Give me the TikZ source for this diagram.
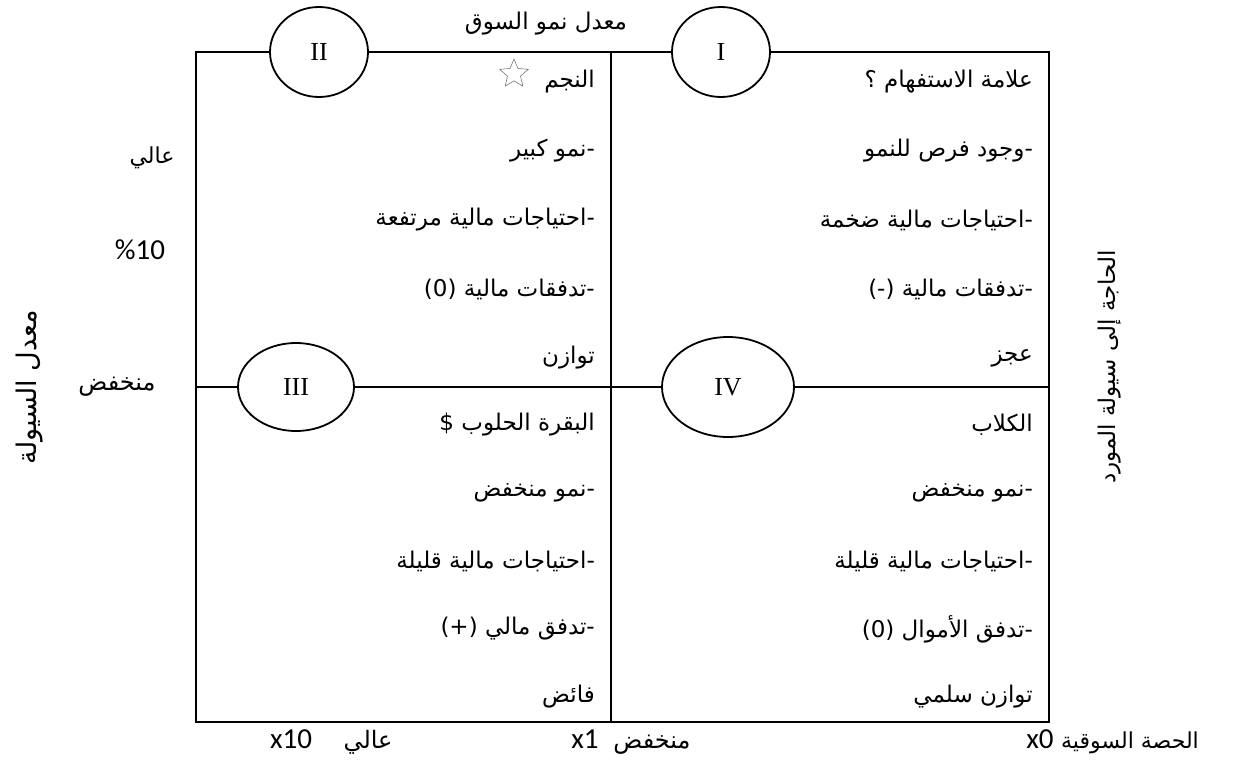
\documentclass[tikz,border=0pt]{standalone}
\usepackage{fontspec}
\setmainfont{Liberation Serif}
\newfontfamily\arabicfont[Script=Arabic]{DejaVu Sans}
\newfontfamily\latinfont{Carlito}
\TeXXeTstate=1
\usetikzlibrary{shapes.geometric}
\newcommand{\artxt}[1]{{\arabicfont\beginR #1\endR}}
\begin{document}
\begin{tikzpicture}[x=1pt,y=-1pt,
  frame/.style={line width=1.8pt},
  quad/.style={ellipse,draw,line width=1.8pt,fill=white,inner sep=0pt,font=\fontsize{26}{30}\selectfont},
  celltext/.style={anchor=east,inner sep=0pt,font=\fontsize{23}{27}\selectfont},
  lbl/.style={inner sep=0pt,font=\fontsize{22}{26}\selectfont},
  numlbl/.style={inner sep=0pt,font=\latinfont\fontsize{29}{33}\selectfont}]
\useasboundingbox (0,0) rectangle (1237,771);
\fill[white] (0,0) rectangle (1237,771);
% frame corners
\coordinate (tl) at (196,52);
\coordinate (tr) at (1049,52);
\coordinate (bl) at (196,722);
\coordinate (br) at (1049,722);
\coordinate (tm) at (611,52);
\coordinate (bm) at (611,722);
\coordinate (ml) at (196,387);
\coordinate (mr) at (1049,387);
\draw[frame] (tl) -- (tr) -- (br) -- (bl) -- cycle;
\draw[frame] (tm) -- (bm);
\draw[frame] (ml) -- (mr);
% quadrant ellipses
\node[quad,minimum width=98pt,minimum height=90pt] (qII) at (319,52) {II};
\node[quad,minimum width=98pt,minimum height=90pt] (qI) at (721,52) {I};
\node[quad,minimum width=116pt,minimum height=88pt] (qIII) at (296,387) {III};
\node[quad,minimum width=132pt,minimum height=100pt] (qIV) at (728,387) {IV};
% title
\node[lbl,font=\fontsize{23}{27}\selectfont] (title) at (546,24) {\artxt{معدل نمو السوق}};
% quadrant I (top right)
\node[celltext] (i1) at (1033,82) {\artxt{علامة الاستفهام ؟}};
\node[celltext] (i2) at (1033,151) {\artxt{-وجود فرص للنمو}};
\node[celltext] (i3) at (1033,220) {\artxt{-احتياجات مالية ضخمة}};
\node[celltext] (i4) at (1033,289) {\artxt{-تدفقات مالية (-)}};
\node[celltext] (i5) at (1033,358) {\artxt{عجز}};
% quadrant II (top left)
\node[celltext] (ii1) at (595,82) {\artxt{النجم}};
\node[star,star points=5,star point ratio=2.2,draw=gray!80!black,line width=0.5pt,minimum size=30pt,inner sep=0pt] (star) at (514,74) {};
\node[celltext] (ii2) at (595,151) {\artxt{-نمو كبير}};
\node[celltext] (ii3) at (595,220) {\artxt{-احتياجات مالية مرتفعة}};
\node[celltext] (ii4) at (595,289) {\artxt{-تدفقات مالية (0)}};
\node[celltext] (ii5) at (595,358) {\artxt{توازن}};
% quadrant III (bottom left)
\node[celltext] (iii1) at (595,425) {\artxt{البقرة الحلوب \$}};
\node[celltext] (iii2) at (595,493) {\artxt{-نمو منخفض}};
\node[celltext] (iii3) at (595,561) {\artxt{-احتياجات مالية قليلة}};
\node[celltext] (iii4) at (595,629) {\artxt{-تدفق مالي (+)}};
\node[celltext] (iii5) at (595,697) {\artxt{فائض}};
% quadrant IV (bottom right)
\node[celltext] (iv1) at (1033,425) {\artxt{الكلاب}};
\node[celltext] (iv2) at (1033,493) {\artxt{-نمو منخفض}};
\node[celltext] (iv3) at (1033,561) {\artxt{-احتياجات مالية قليلة}};
\node[celltext] (iv4) at (1033,629) {\artxt{-تدفق الأموال (0)}};
\node[celltext] (iv5) at (1033,697) {\artxt{توازن سلمي}};
% left axis
\node[lbl] (high) at (152,158) {\artxt{عالي}};
\node[numlbl] (ten) at (140,250) {\%10};
\node[lbl,font=\fontsize{24}{28}\selectfont] (low) at (117,387) {\artxt{منخفض}};
\node[lbl,rotate=90,font=\fontsize{27}{31}\selectfont] (liq) at (30,387) {\artxt{معدل السيولة}};
% right axis
\node[lbl,rotate=90,font=\fontsize{23}{27}\selectfont] (need) at (1110,367) {\artxt{الحاجة إلى سيولة المورد}};
% bottom axis
\node[numlbl,anchor=base] (x10) at (291,748) {x10};
\node[lbl,anchor=base,font=\fontsize{24}{28}\selectfont] (hi2) at (368,748) {\artxt{عالي}};
\node[numlbl,anchor=base] (x1) at (585,748) {x1};
\node[lbl,anchor=base,font=\fontsize{24}{28}\selectfont] (lo2) at (652,748) {\artxt{منخفض}};
\node[numlbl,anchor=base] (x0) at (1040,748) {x0};
\node[lbl,anchor=base,font=\fontsize{22}{26}\selectfont] (share) at (1130,748) {\artxt{الحصة السوقية}};
\end{tikzpicture}
\end{document}
